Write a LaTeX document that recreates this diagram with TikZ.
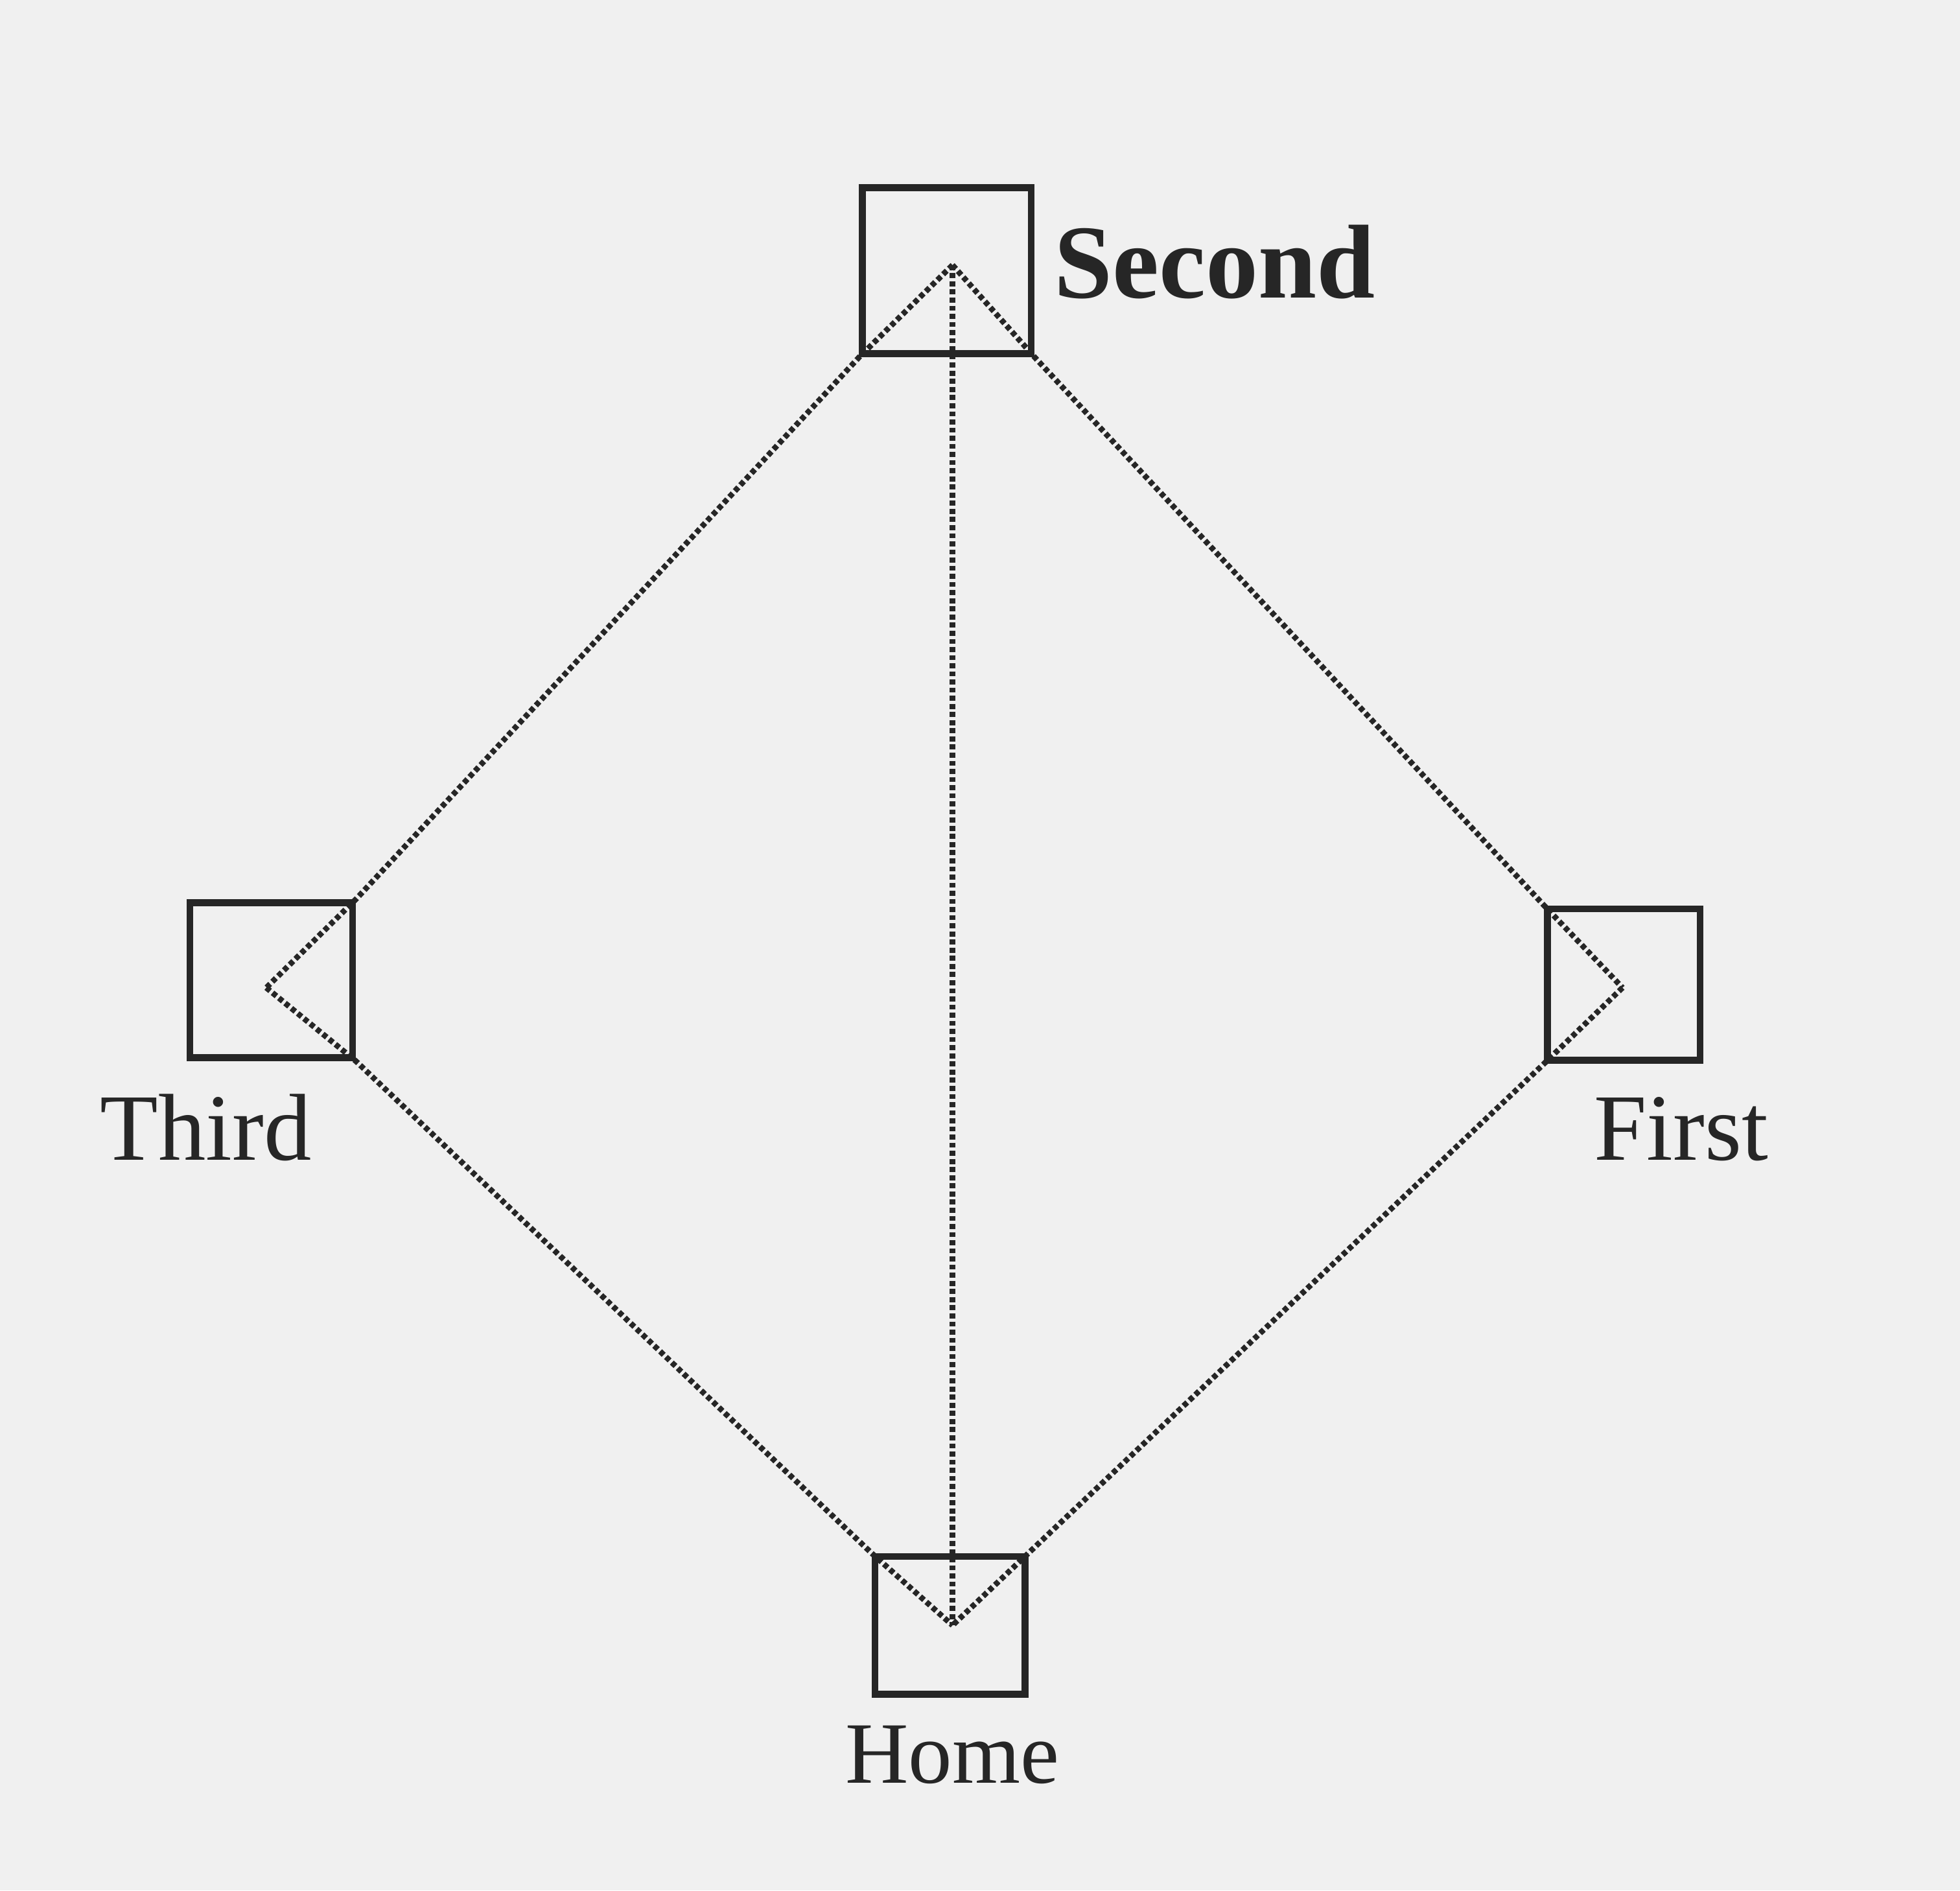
\documentclass[tikz,border=0pt]{standalone}
\usepackage{fontspec}
\setmainfont{Liberation Serif}
\begin{document}
\begin{tikzpicture}[x=1pt,y=-1pt,
  base/.style={draw=black!85,line width=5.5pt,inner sep=0pt},
  path/.style={draw=black!85,line width=4.5pt,dash pattern=on 4pt off 2.5pt},
  lbl/.style={font=\fontsize{76}{76}\selectfont,text=black!85,inner sep=0pt,anchor=base west}]
\fill[gray!12] (0,0) rectangle (1568,1512);
\useasboundingbox (0,0) rectangle (1568,1512);
% bases
\node[base,minimum width=135pt,minimum height=133pt] (second) at (757.5,216.5) {};
\node[base,minimum width=130pt,minimum height=124pt] (third) at (217,784) {};
\node[base,minimum width=122pt,minimum height=121pt] (first) at (1299,787.5) {};
\node[base,minimum width=120pt,minimum height=110pt] (home) at (760,1300) {};
% inner points
\coordinate (s0) at (762,212);
\coordinate (t0) at (213,790);
\coordinate (f0) at (1298,790);
\coordinate (h0) at (762,1300);
% base paths
\draw[path] (s0) -- (second.south west) -- (third.north east) -- (t0);
\draw[path] (s0) -- (second.south east) -- (first.north west) -- (f0);
\draw[path] (t0) -- (third.south east) -- (home.north west) -- (h0);
\draw[path] (f0) -- (first.south west) -- (home.north east) -- (h0);
\draw[path] (s0) -- (h0);
% labels
\node[lbl,font=\fontsize{84}{84}\selectfont\bfseries] (ls) at (843,238) {Second};
\node[lbl] (lt) at (80,928) {Third};
\node[lbl] (lf) at (1275,928) {First};
\node[lbl,font=\fontsize{70}{70}\selectfont] (lh) at (676,1426) {Home};
\end{tikzpicture}
\end{document}
